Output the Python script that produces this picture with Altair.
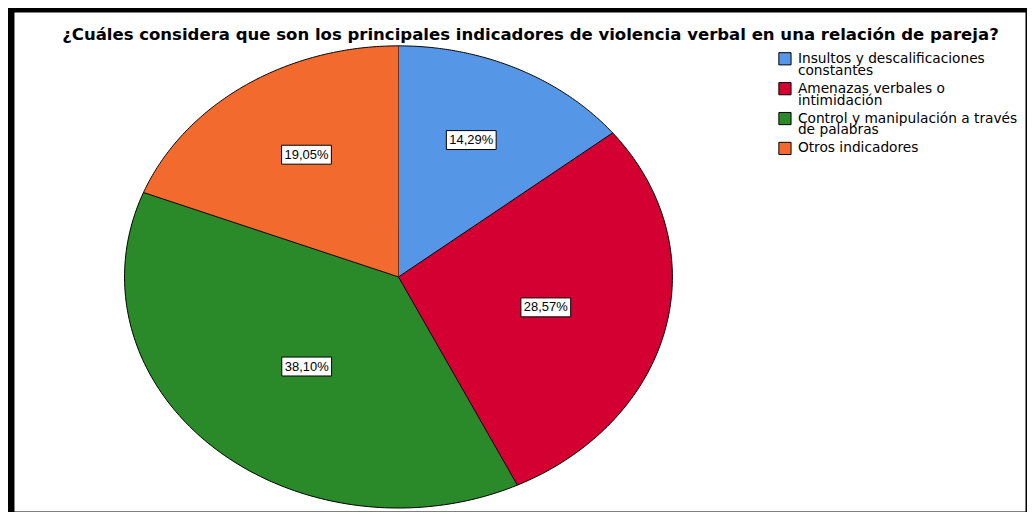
import altair as alt
import pandas as pd

categories = [
    "Insultos y descalificaciones\nconstantes",
    "Amenazas verbales o\nintimidación",
    "Control y manipulación a través\nde palabras",
    "Otros indicadores",
]
values = [14.29, 28.57, 38.10, 19.05]
colors = ["#5596e6", "#d50032", "#2a8a2a", "#f26a2d"]
title_text = "¿Cuáles considera que son los principales indicadores de violencia verbal en una relación de pareja?"

df = pd.DataFrame({"category": categories, "value": values, "order": list(range(len(categories)))})

xscale = alt.Scale(domain=[-1, 1], range=[111, 661], nice=False, zero=False)
yscale = alt.Scale(domain=[-1, 1], range=[498, 34], nice=False, zero=False)

base = (
    alt.Chart(df)
    .transform_joinaggregate(total="sum(value)")
    .transform_window(cum="sum(value)", sort=[alt.SortField("order")], frame=[None, 0])
    .transform_calculate(
        a0="2*PI*(datum.cum-datum.value)/datum.total",
        a1="2*PI*datum.cum/datum.total",
    )
)

wedges = (
    base.transform_calculate(steps="sequence(-1, 121)")
    .transform_flatten(["steps"], as_=["step"])
    .transform_calculate(
        ang="datum.a0+(datum.a1-datum.a0)*max(datum.step,0)/120",
    )
    .transform_calculate(
        px="datum.step<0 ? 0 : sin(datum.ang)",
        py="datum.step<0 ? 0 : cos(datum.ang)",
    )
    .mark_line(filled=True, stroke="black", strokeWidth=1, strokeJoin="miter", opacity=1)
    .encode(
        x=alt.X("px:Q", scale=xscale, axis=None),
        y=alt.Y("py:Q", scale=yscale, axis=None),
        order=alt.Order("step:Q"),
        color=alt.Color(
            "category:N",
            scale=alt.Scale(domain=categories, range=colors),
            legend=alt.Legend(
                title=None,
                orient="none",
                legendX=767,
                legendY=40,
                symbolType="square",
                symbolSize=150,
                symbolStrokeColor="black",
                symbolStrokeWidth=1,
                symbolOpacity=1,
                labelFont="DejaVu Sans",
                labelFontSize=13.8,
                labelColor="black",
                labelExpr="split(datum.label, '\\n')",
                labelLimit=400,
                rowPadding=2,
                labelOffset=6,
                padding=0,
            ),
        ),
    )
)

# labels at the sector centroid
labels_base = base.transform_calculate(
    mid="(datum.a0+datum.a1)/2",
    th="datum.a1-datum.a0",
).transform_calculate(
    cd="4*sin(datum.th/2)/(3*datum.th)",
).transform_calculate(
    lx="0.95*datum.cd*sin(datum.mid)",
    ly="1.02*datum.cd*cos(datum.mid)",
    txt="replace(format(datum.value, '.2f'), '.', ',') + '%'",
)

boxes = labels_base.mark_point(
    shape="M-1,-0.38L1,-0.38L1,0.38L-1,0.38Z",
    size=2500,
    filled=True,
    fill="white",
    stroke="black",
    strokeWidth=1,
    opacity=1,
).encode(
    x=alt.X("lx:Q", scale=xscale, axis=None),
    y=alt.Y("ly:Q", scale=yscale, axis=None),
)

texts = labels_base.mark_text(
    font="Liberation Sans", fontSize=13, color="black", align="center", baseline="middle"
).encode(
    x=alt.X("lx:Q", scale=xscale, axis=None),
    y=alt.Y("ly:Q", scale=yscale, axis=None),
    text="txt:N",
)

chart = (
    alt.layer(wedges, boxes, texts)
    .properties(
        width=1015,
        height=501,
        padding={"left": 6, "top": 3, "right": 2, "bottom": 0},
        autosize=alt.AutoSizeParams(type="none"),
        title=alt.TitleParams(
            title_text,
            font="DejaVu Sans",
            fontSize=16.6,
            fontWeight="bold",
            color="black",
            anchor="middle",
            frame="group",
            offset=0,
            baseline="alphabetic",
            dy=45,
            dx=11,
        ),
    )
    .configure(background="black", style={"guide-label": {"lineHeight": 12}})
    .configure_view(fill="white", stroke="transparent")
)

chart.save("out.html", embed_options={"renderer": "svg", "actions": False})
